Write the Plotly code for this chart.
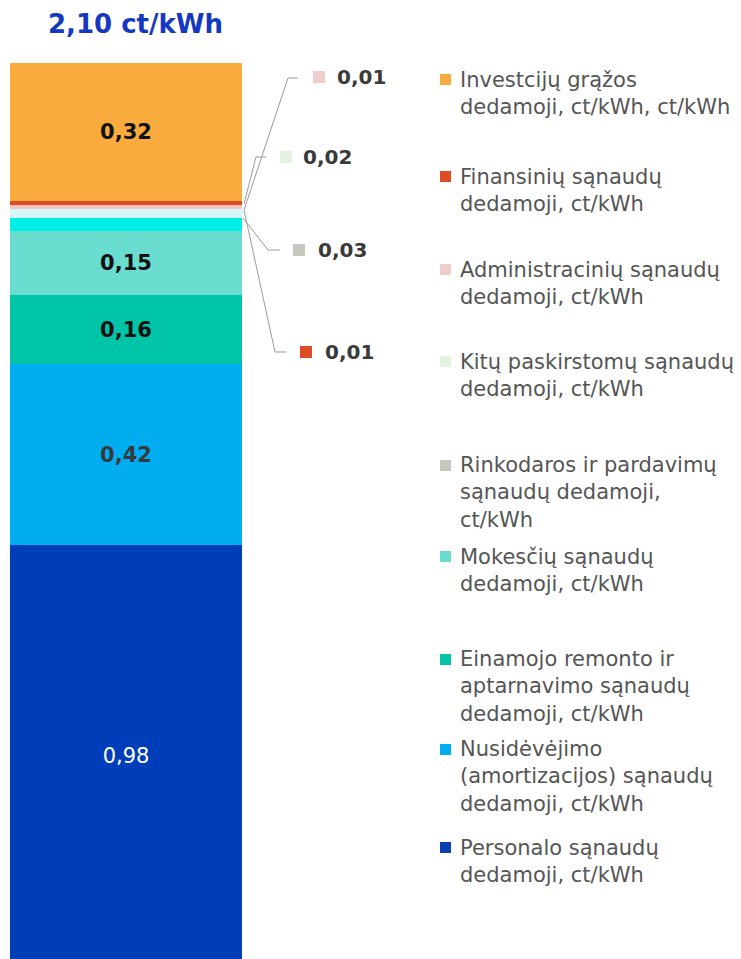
import plotly.graph_objects as go

# ---------------- data (top of bar -> bottom of bar) ----------------
names = [
    "Investcijų grąžos<br>dedamoji, ct/kWh, ct/kWh",
    "Finansinių sąnaudų<br>dedamoji, ct/kWh",
    "Administracinių sąnaudų<br>dedamoji, ct/kWh",
    "Kitų paskirstomų sąnaudų<br>dedamoji, ct/kWh",
    "Rinkodaros ir pardavimų<br>sąnaudų dedamoji,<br>ct/kWh",
    "Mokesčių sąnaudų<br>dedamoji, ct/kWh",
    "Einamojo remonto ir<br>aptarnavimo sąnaudų<br>dedamoji, ct/kWh",
    "Nusidėvėjimo<br>(amortizacijos) sąnaudų<br>dedamoji, ct/kWh",
    "Personalo sąnaudų<br>dedamoji, ct/kWh",
]
values = [0.32, 0.01, 0.01, 0.02, 0.03, 0.15, 0.16, 0.42, 0.98]
bar_colors = ["#F9AC3D", "#DD4B27", "#F2C6BE", "#D4F8F8", "#00EDE8",
              "#6ADCD0", "#00C4A8", "#00AEEF", "#003DB8"]
legend_colors = ["#F9AC3D", "#DD4B27", "#EFCDC8", "#E4F2E0", "#C5C8BD",
                 "#6ADCD0", "#00C4A8", "#00AEEF", "#0A3FB0"]
label_colors = ["#111111", "#111111", "#111111", "#111111", "#111111",
                "#111111", "#111111", "#343A3F", "#FFFFFF"]
label_bold = [True, True, True, True, True, True, True, True, False]
unit = "ct/kWh"

def fmt(v):
    return f"{v:.2f}".replace(".", ",")

# ---------------- layout geometry (pixels, window coordinates) ----------------
OFF = 8                      # default page body margin
WIN_W, WIN_H = 741, 959
W, H = WIN_W - OFF, WIN_H - OFF
L, R, T, B = 10, 242, 63, 959

def px(x):
    return (x - L) / (R - L)

def py(y):
    return (B - y) / (B - T)

fig = go.Figure()

# stacked bar: add bottom segment first
for i in reversed(range(len(values))):
    v = values[i]
    txt = fmt(v) if v >= 0.1 else ""
    if txt and label_bold[i]:
        txt = "<b>" + txt + "</b>"
    fig.add_trace(go.Bar(
        x=["total"], y=[v], name=names[i],
        marker=dict(color=bar_colors[i], line=dict(width=0)),
        text=[txt], textposition="inside", insidetextanchor="middle",
        textangle=0, constraintext="none",
        insidetextfont=dict(family="DejaVu Sans", size=21, color=label_colors[i]),
        hoverinfo="skip", showlegend=False,
    ))

shapes = []
annotations = []

# title with total
total = sum(values)
annotations.append(dict(
    x=px(135.5), y=py(24), xref="paper", yref="paper",
    text=f"<b>{fmt(total)} {unit}</b>", showarrow=False,
    xanchor="center", yanchor="middle",
    font=dict(family="DejaVu Sans", size=26, color="#1538C3"),
))

# legend (manual, to the right)
legend_first_line_y = [80, 177, 270, 362, 466, 557, 660, 750, 848]
line_h = 26.5
for i, nm in enumerate(names):
    n_lines = nm.count("<br>") + 1
    y0 = legend_first_line_y[i]
    yc = y0 + (n_lines - 1) * line_h / 2
    annotations.append(dict(
        x=px(458), y=py(yc), xref="paper", yref="paper",
        text=nm, showarrow=False, align="left",
        xanchor="left", yanchor="middle",
        font=dict(family="DejaVu Sans", size=21, color="#555555"),
    ))
    shapes.append(dict(
        type="rect", xref="paper", yref="paper",
        x0=px(440), x1=px(451), y0=py(y0 - 6), y1=py(y0 + 5),
        fillcolor=legend_colors[i], line=dict(width=0),
    ))

# callouts for thin segments: (series index, leader path, square left, text left, y)
callouts = [
    (2, [(244, 210), (288, 78), (298, 78)], 313, 335, 77),
    (3, [(244, 204), (256, 157), (266, 157)], 280, 301, 157),
    (4, [(243, 218), (268, 250), (280, 250)], 293, 316, 250),
    (1, [(244, 210), (275, 352), (286, 352)], 300, 323, 352),
]
for idx, pts, sqx, tx, ty in callouts:
    path = "M " + " L ".join(f"{px(a):.5f},{py(b):.5f}" for a, b in pts)
    shapes.append(dict(type="path", xref="paper", yref="paper", path=path,
                       line=dict(color="#9A9A9A", width=1)))
    shapes.append(dict(type="rect", xref="paper", yref="paper",
                       x0=px(sqx), x1=px(sqx + 12), y0=py(ty - 6), y1=py(ty + 6),
                       fillcolor=legend_colors[idx], line=dict(width=0)))
    annotations.append(dict(
        x=px(tx), y=py(ty), xref="paper", yref="paper",
        text=f"<b>{fmt(values[idx])}</b>", showarrow=False,
        xanchor="left", yanchor="middle",
        font=dict(family="DejaVu Sans", size=20, color="#3A3A3A"),
    ))

fig.update_layout(
    width=W, height=H,
    margin=dict(l=L - OFF, r=WIN_W - R, t=T - OFF, b=WIN_H - B, autoexpand=False),
    barmode="stack", bargap=0,
    paper_bgcolor="white", plot_bgcolor="white",
    xaxis=dict(visible=False, fixedrange=True),
    yaxis=dict(visible=False, range=[0.016, total], fixedrange=True),
    shapes=shapes, annotations=annotations,
    showlegend=False,
)

fig.write_html("out.html")
